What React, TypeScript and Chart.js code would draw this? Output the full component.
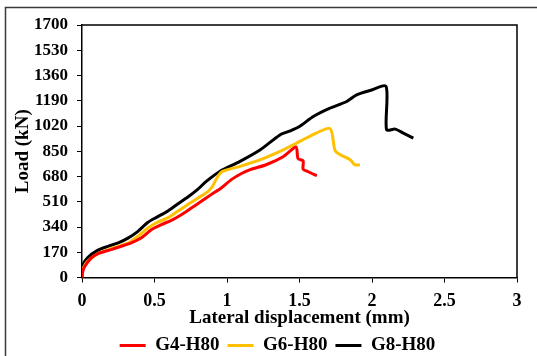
import React, { useEffect, useRef } from "react";
import { Chart, registerables } from "chart.js";

Chart.register(...registerables);

const seriesNames = ["G4-H80", "G6-H80", "G8-H80"];
const seriesColors = ["#FF0000", "#FFC000", "#000000"];

const g4X = [0, 0.005, 0.02, 0.065, 0.11, 0.2, 0.27, 0.34, 0.41, 0.48, 0.547, 0.616, 0.685, 0.754, 0.823, 0.89, 0.96, 1.03, 1.1, 1.16, 1.27, 1.39, 1.476, 1.49, 1.525, 1.525, 1.56, 1.62];
const g4Y = [0, 40, 76, 132, 161, 188, 210, 233, 267, 323, 356, 385, 423, 468, 513, 558, 603, 659, 700, 726, 759, 815, 878, 800, 785, 730, 712, 685];

const g6X = [0, 0.005, 0.04, 0.11, 0.18, 0.25, 0.32, 0.386, 0.455, 0.52, 0.59, 0.66, 0.73, 0.8, 0.87, 0.9, 0.93, 0.96, 1.0, 1.09, 1.23, 1.365, 1.48, 1.57, 1.71, 1.745, 1.78, 1.85, 1.88, 1.917];
const g6Y = [0, 54, 110, 161, 188, 210, 233, 278, 334, 372, 401, 446, 491, 535, 580, 614, 670, 710, 725, 748, 793, 849, 905, 950, 1003, 855, 827, 793, 759, 757];

const g8X = [0, 0.003, 0.04, 0.11, 0.18, 0.25, 0.32, 0.386, 0.455, 0.52, 0.59, 0.66, 0.73, 0.8, 0.857, 0.95, 1.09, 1.23, 1.365, 1.43, 1.5, 1.595, 1.71, 1.825, 1.894, 1.986, 2.097, 2.1, 2.16, 2.216, 2.285];
const g8Y = [0, 76, 134, 184, 210, 233, 267, 311, 372, 408, 446, 495, 542, 595, 647, 714, 782, 860, 960, 985, 1017, 1084, 1140, 1185, 1230, 1259, 1286, 995, 999, 972, 939];

const xTickMin = 0;
const xTickMax = 3;
const xTickStep = 0.5;
const yTickMin = 0;
const yTickMax = 1700;
const yTickStep = 170;

const xTitle = "Lateral displacement (mm)";
const yTitle = "Load (kN)";

const FONT = "'Liberation Serif', 'Times New Roman', serif";

function pts(xs: number[], ys: number[]) {
  return xs.map((x, i) => ({ x, y: ys[i] }));
}

const framePlugin = {
  id: "framePlugin",
  afterLayout(chart: any) {
    const lg = chart.legend;
    if (lg) {
      lg.left += 15;
      lg.right += 15;
      lg.top += 3;
      lg.bottom += 3;
    }
  },
  afterDraw(chart: any) {
    const { ctx, chartArea } = chart;
    ctx.save();
    ctx.strokeStyle = "#000";
    ctx.lineWidth = 1.5;
    ctx.beginPath();
    ctx.moveTo(chartArea.left, chartArea.top);
    ctx.lineTo(chartArea.right, chartArea.top);
    ctx.lineTo(chartArea.right, chartArea.bottom);
    ctx.stroke();
    // outer chart-area frame
    ctx.strokeStyle = "#3a3a3a";
    ctx.lineWidth = 1.5;
    ctx.beginPath();
    ctx.moveTo(5.5, chart.height);
    ctx.lineTo(5.5, 7.5);
    ctx.lineTo(chart.width, 7.5);
    ctx.stroke();
    ctx.restore();
  },
};

export default function App() {
  const ref = useRef<HTMLCanvasElement | null>(null);
  useEffect(() => {
    if (!ref.current) return;
    const all = [pts(g4X, g4Y), pts(g6X, g6Y), pts(g8X, g8Y)];
    const chart = new Chart(ref.current, {
      type: "scatter",
      data: {
        datasets: all.map((d, i) => ({
          label: seriesNames[i],
          data: d,
          showLine: true,
          borderColor: seriesColors[i],
          backgroundColor: seriesColors[i],
          borderWidth: 3,
          pointRadius: 0,
          tension: 0.25,
        })),
      },
      options: {
        animation: false,
        responsive: false,
        maintainAspectRatio: false,
        layout: { padding: { left: 8, right: 20, top: 25, bottom: -6 } },
        plugins: {
          tooltip: { enabled: false },
          legend: {
            position: "bottom",
            labels: {
              boxWidth: 26,
              boxHeight: 3,
              padding: 8,
              color: "#000",
              font: { family: FONT, size: 19, weight: "bold" },
              generateLabels: (c: any) =>
                c.data.datasets.map((ds: any, i: number) => ({
                  text: ds.label,
                  fillStyle: ds.borderColor,
                  strokeStyle: ds.borderColor,
                  lineWidth: 0,
                  hidden: false,
                  datasetIndex: i,
                  fontColor: "#000",
                })),
            },
          },
        },
        scales: {
          x: {
            type: "linear",
            min: xTickMin,
            max: xTickMax,
            ticks: {
              stepSize: xTickStep,
              color: "#000",
              padding: 8,
              font: { family: FONT, size: 18, weight: "bold" },
              callback: (v: any) => String(v),
            },
            grid: { drawOnChartArea: false, drawTicks: true, tickLength: 5, color: "#000", lineWidth: 1 },
            border: { display: true, color: "#000", width: 1.5 },
            title: {
              display: true,
              text: xTitle,
              color: "#000",
              padding: { top: 0, bottom: -4 },
              font: { family: FONT, size: 19, weight: "bold" },
            },
            afterFit: (s: any) => {
              s.height = 47.5;
            },
          },
          y: {
            type: "linear",
            min: yTickMin,
            max: yTickMax,
            ticks: {
              stepSize: yTickStep,
              color: "#000",
              padding: 9,
              font: { family: FONT, size: 17, weight: "bold" },
              callback: (v: any) => String(v),
            },
            grid: { drawOnChartArea: false, drawTicks: true, tickLength: 5, color: "#000", lineWidth: 1 },
            border: { display: true, color: "#000", width: 1.5 },
            title: {
              display: true,
              text: yTitle,
              color: "#000",
              padding: { top: 4, bottom: 0 },
              font: { family: FONT, size: 19, weight: "bold" },
            },
            afterFit: (s: any) => {
              s.width = 74;
            },
          },
        },
      },
      plugins: [framePlugin],
    } as any);
    return () => chart.destroy();
  }, []);
  return (
    <div style={{ position: "fixed", left: 0, top: 0, width: 537, height: 356, background: "#fff" }}>
      <canvas ref={ref} width={537} height={356} style={{ display: "block", width: 537, height: 356 }} />
    </div>
  );
}
